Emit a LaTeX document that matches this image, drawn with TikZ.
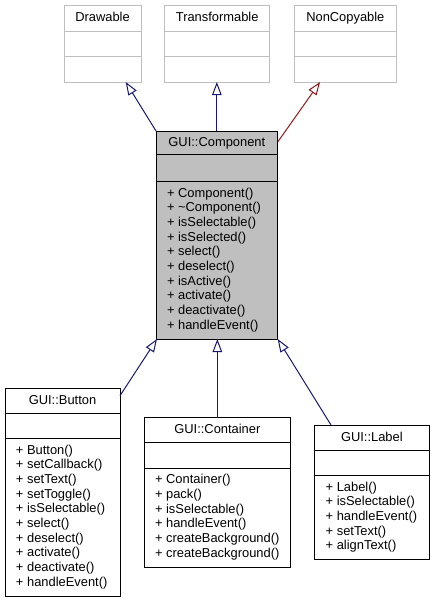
\documentclass[tikz,border=0pt]{standalone}
\usepackage{fontspec}
\setmainfont{Liberation Sans}
\usetikzlibrary{arrows.meta,calc}
\definecolor{edgeblue}{HTML}{191970}
\definecolor{edgered}{HTML}{8B1A1A}
\definecolor{compfill}{HTML}{BFBFBF}
\definecolor{lightborder}{HTML}{BFBFBF}
\tikzset{
  extbox/.style={draw=lightborder, fill=white, line width=1pt, rectangle, inner sep=0pt, outer sep=0pt},
  mainbox/.style={draw=black, fill=compfill, line width=1pt, rectangle, inner sep=0pt, outer sep=0pt},
  subbox/.style={draw=black, fill=white, line width=1pt, rectangle, inner sep=0pt, outer sep=0pt},
  txt/.style={inner sep=0pt, font=\fontsize{12.9}{14.7}\selectfont},
  inh/.style={-{Triangle[open, length=13pt, width=9.5pt, fill=white]}, line width=1pt, draw=edgeblue},
  inhpriv/.style={-{Triangle[open, length=13pt, width=9.5pt, fill=white]}, line width=1pt, draw=edgered}
}
% #1 name, #2 x1, #3 y1, #4 x2, #5 y2, #6 divider1, #7 divider2, #8 style, #9 title
\newcommand{\umlbox}[9]{%
  \node[#8, minimum width={#4-#2}, minimum height={#5-#3}, anchor=north west] (#1) at (#2,-#3) {};
  \draw[#8, fill=none] (#2,-#6) -- (#4,-#6) (#2,-#7) -- (#4,-#7);
  \node[txt, anchor=base] (#1-t) at ({(#2+#4)/2},{-(#3+#6)/2-3.5}) {#9};
}
% #1 name, #2 x1, #3 divider2, #4 list
\newcommand{\umlmembers}[4]{%
  \foreach \mt [count=\mi] in {#4} {
    \node[txt, anchor=base west] (#1-m\mi) at ({#2+10.8},{-#3-15.5-(\mi-1)*14.67}) {+ \mt};
  }
}
\begin{document}
\begin{tikzpicture}[x=1pt, y=1pt]
\useasboundingbox (0,0) rectangle (435,-603);

\umlbox{drawable}{64}{5}{141}{82}{31.7}{56.7}{extbox}{Drawable}
\umlbox{transf}{164.7}{5}{269.7}{82}{31.7}{56.7}{extbox}{Transformable}
\umlbox{noncopy}{294.7}{5}{396}{82}{31.7}{56.7}{extbox}{NonCopyable}

\umlbox{comp}{156}{131}{277.7}{339}{154.7}{181.7}{mainbox}{GUI::Component}
\umlmembers{comp}{156}{181.7}{Component(),\textasciitilde Component(),isSelectable(),isSelected(),select(),deselect(),isActive(),activate(),deactivate(),handleEvent()}

\umlbox{btn}{5}{388.3}{120}{596.7}{413.3}{438.7}{subbox}{GUI::Button}
\umlmembers{btn}{5}{438.7}{Button(),setCallback(),setText(),setToggle(),isSelectable(),select(),deselect(),activate(),deactivate(),handleEvent()}

\umlbox{cont}{144}{417.7}{290.7}{567.3}{442.7}{468.3}{subbox}{GUI::Container}
\umlmembers{cont}{144}{468.3}{Container(),pack(),isSelectable(),handleEvent(),createBackground(),createBackground()}

\umlbox{lbl}{314.7}{425}{429}{559.3}{450.7}{475.7}{subbox}{GUI::Label}
\umlmembers{lbl}{314.7}{475.7}{Label(),isSelectable(),handleEvent(),setText(),alignText()}

% inheritance edges
\draw[inh] (comp.north west) -- ($(drawable.south)+(23.2,0)$);
\draw[inh] (comp.north) -- (comp.north |- transf.south);
\draw[inhpriv] ($(comp.north east)+(0,-11)$) -- ($(noncopy.south)+(-25.3,0)$);

\draw[inh] ($(btn.north east)+(0,-7.4)$) -- ($(comp.south west)+(1,0)$);
\draw[inh] (cont.north) -- (cont.north |- comp.south);
\draw[inh] ($(lbl.north west)+(16.3,0)$) -- (comp.south east);
\end{tikzpicture}
\end{document}
